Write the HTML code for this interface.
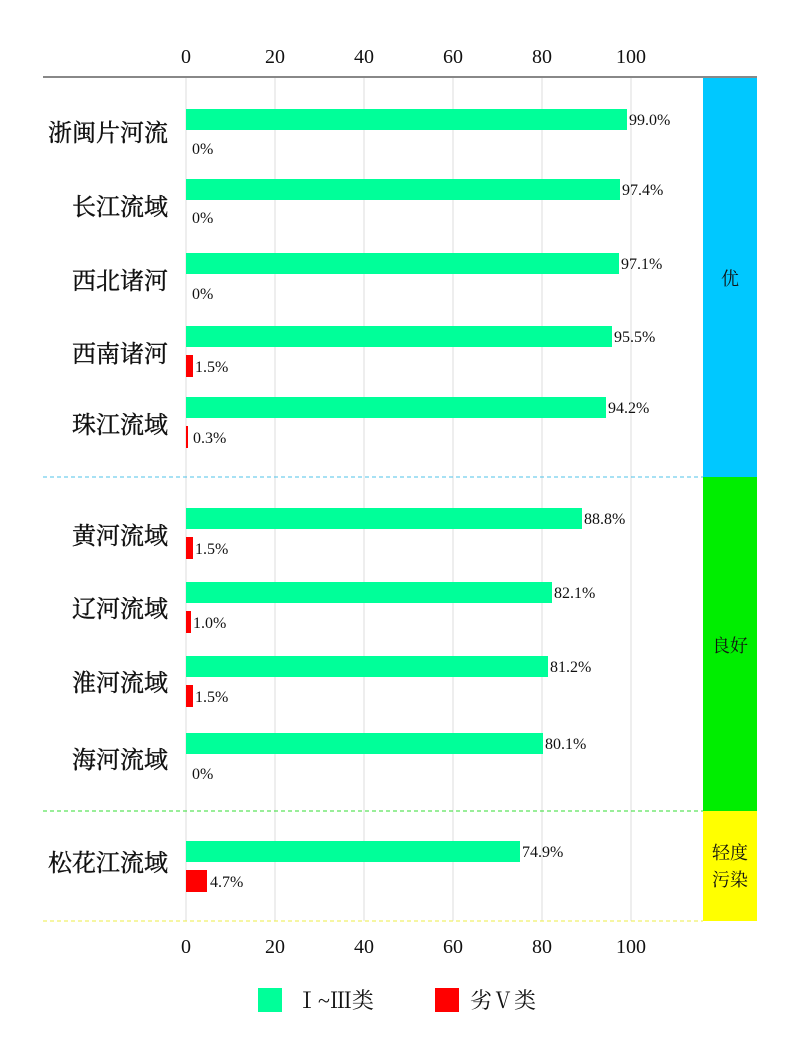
<!DOCTYPE html>
<html><head><meta charset="utf-8"><style>
body{margin:0;background:#fff;}
svg text{font-family:"Liberation Serif","Noto Serif CJK SC",serif;fill:#111;}
</style></head><body>
<svg width="800" height="1053" xmlns="http://www.w3.org/2000/svg">
<g stroke="#ddd" stroke-width="1">
<line x1="186" y1="78" x2="186" y2="921"/><line x1="275" y1="78" x2="275" y2="921"/>
<line x1="364" y1="78" x2="364" y2="921"/><line x1="453" y1="78" x2="453" y2="921"/>
<line x1="542" y1="78" x2="542" y2="921"/><line x1="631" y1="78" x2="631" y2="921"/>
</g>
<line x1="43" y1="77" x2="757" y2="77" stroke="#888" stroke-width="2"/>
<rect x="703" y="78" width="54" height="399" fill="#00c8ff"/>
<rect x="703" y="477" width="54" height="334" fill="#00ee00"/>
<rect x="703" y="811" width="54" height="110" fill="#ffff00"/>
<line x1="43" y1="477" x2="703" y2="477" stroke="#4fc3e8" stroke-dasharray="4,3"/>
<line x1="43" y1="811" x2="703" y2="811" stroke="#33dd33" stroke-dasharray="4,3"/>
<line x1="43" y1="921" x2="703" y2="921" stroke="#eeee44" stroke-dasharray="4,3"/>
<g font-size="20" text-anchor="middle">
<text x="186" y="63">0</text><text x="275" y="63">20</text><text x="364" y="63">40</text><text x="453" y="63">60</text><text x="542" y="63">80</text><text x="631" y="63">100</text>
<text x="186" y="953">0</text><text x="275" y="953">20</text><text x="364" y="953">40</text><text x="453" y="953">60</text><text x="542" y="953">80</text><text x="631" y="953">100</text>
</g>
<g font-size="18" text-anchor="middle">
<text x="730" y="285">优</text><text x="730" y="652">良好</text>
<text x="730" y="859">轻度</text><text x="730" y="886">污染</text>
</g>
<g fill="#00ff99">
<rect x="186" y="109" width="441" height="21"/>
<rect x="186" y="179" width="434" height="21"/>
<rect x="186" y="253" width="433" height="21"/>
<rect x="186" y="326" width="426" height="21"/>
<rect x="186" y="397" width="420" height="21"/>
<rect x="186" y="508" width="396" height="21"/>
<rect x="186" y="582" width="366" height="21"/>
<rect x="186" y="656" width="362" height="21"/>
<rect x="186" y="733" width="357" height="21"/>
<rect x="186" y="841" width="334" height="21"/>
</g>
<g fill="#ff0000">
<rect x="186" y="355" width="7" height="22"/>
<rect x="186" y="426" width="2" height="22"/>
<rect x="186" y="537" width="7" height="22"/>
<rect x="186" y="611" width="5" height="22"/>
<rect x="186" y="685" width="7" height="22"/>
<rect x="186" y="870" width="21" height="22"/>
</g>
<g font-size="16">
<text x="629" y="125">99.0%</text><text x="622" y="195">97.4%</text><text x="621" y="269">97.1%</text>
<text x="614" y="342">95.5%</text><text x="608" y="413">94.2%</text><text x="584" y="524">88.8%</text>
<text x="554" y="598">82.1%</text><text x="550" y="672">81.2%</text><text x="545" y="749">80.1%</text>
<text x="522" y="857">74.9%</text>
<text x="192" y="154">0%</text><text x="192" y="223">0%</text><text x="192" y="299">0%</text>
<text x="195" y="372">1.5%</text><text x="193" y="443">0.3%</text><text x="195" y="554">1.5%</text>
<text x="193" y="628">1.0%</text><text x="195" y="702">1.5%</text><text x="192" y="779">0%</text>
<text x="210" y="887">4.7%</text>
</g>
<g font-size="24" text-anchor="end" stroke="#111" stroke-width="0.4">
<text x="168" y="141">浙闽片河流</text><text x="168" y="215">长江流域</text><text x="168" y="289">西北诸河</text>
<text x="168" y="362">西南诸河</text><text x="168" y="433">珠江流域</text><text x="168" y="544">黄河流域</text>
<text x="168" y="617">辽河流域</text><text x="168" y="691">淮河流域</text><text x="168" y="768">海河流域</text>
<text x="168" y="871">松花江流域</text>
</g>
<rect x="258" y="988" width="24" height="24" fill="#00ff99"/>
<text x="296" y="1008" font-size="22">Ⅰ~Ⅲ类</text>
<rect x="435" y="988" width="24" height="24" fill="#ff0000"/>
<text x="470" y="1008" font-size="22">劣Ⅴ类</text>
</svg>
</body></html>
